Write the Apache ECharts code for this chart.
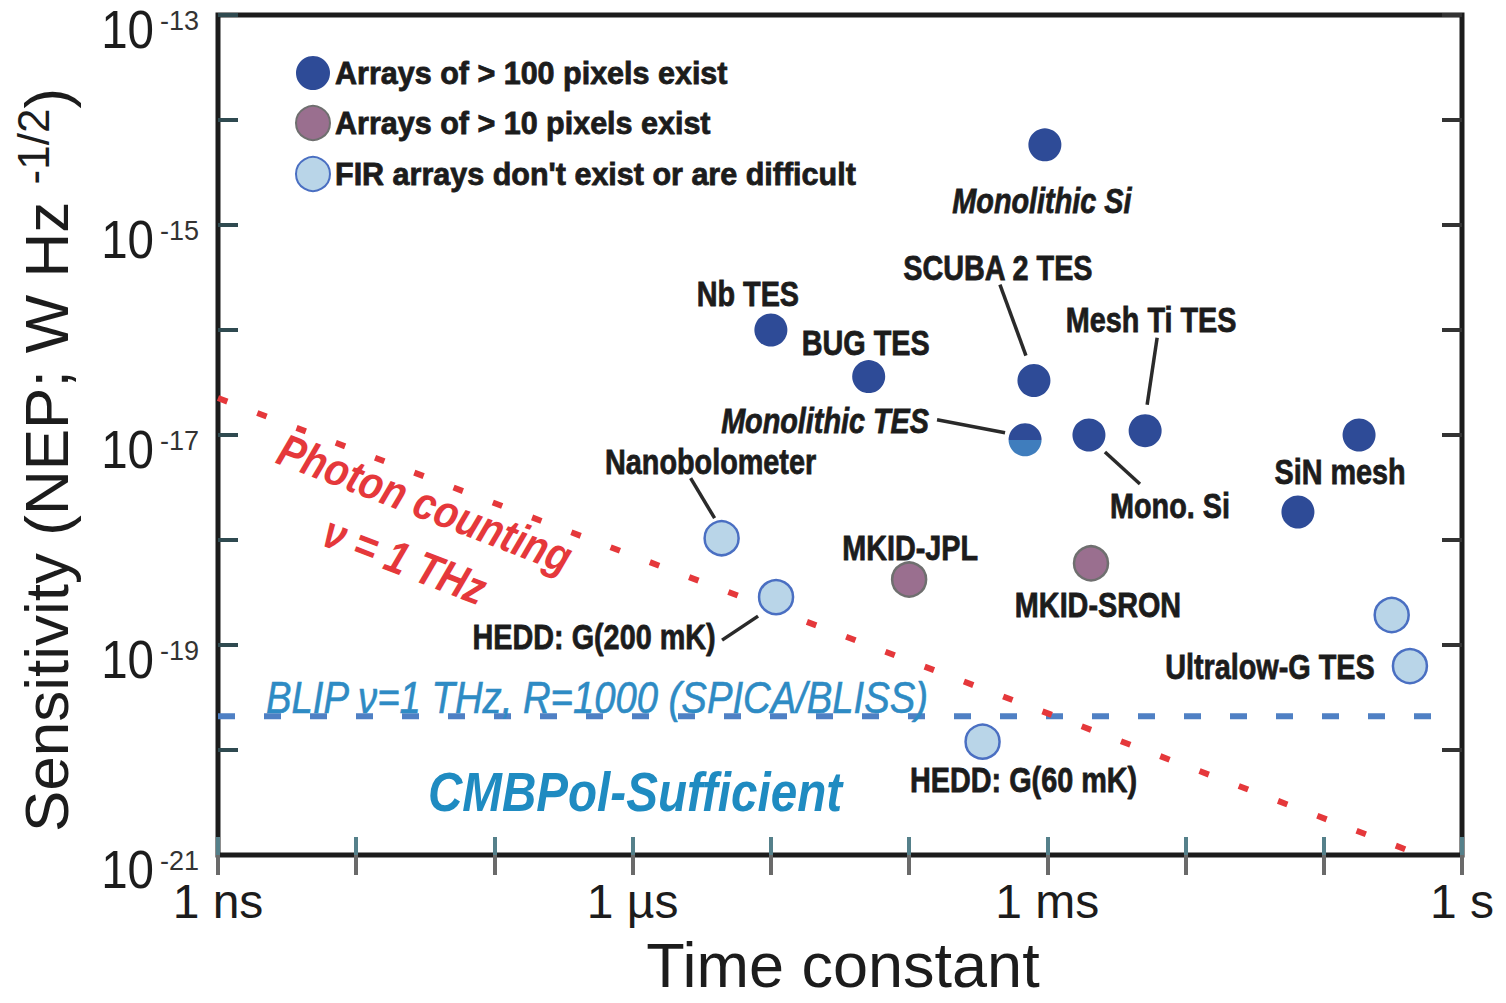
<!DOCTYPE html>
<html><head><meta charset="utf-8">
<script src="https://cdn.jsdelivr.net/npm/echarts@6/dist/echarts.min.js"></script>
<style>html,body{margin:0;padding:0;background:#fff;}#c{width:1506px;height:1003px;}</style>
</head><body><div id="c"></div>
<script>
// ---------------- data ----------------
const seriesNames = ['Arrays of > 100 pixels exist', 'Arrays of > 10 pixels exist', "FIR arrays don't exist or are difficult"];

const bigNames = ['Monolithic Si', 'Nb TES', 'BUG TES', 'SCUBA 2 TES', 'Monolithic TES', 'Mono. Si', 'Mesh Ti TES', 'SiN mesh', 'SiN mesh #2'];
const bigTau   = [9.6e-4, 1.0e-5, 5.1e-5, 8.0e-4, 6.9e-4, 2.0e-3, 5.1e-3, 0.18, 0.065];
const bigNEP   = [5.8e-15, 1.0e-16, 3.6e-17, 3.3e-17, 9.0e-18, 1.0e-17, 1.1e-17, 1.0e-17, 1.85e-18];

const midNames = ['MKID-JPL', 'MKID-SRON'];
const midTau   = [1.0e-4, 2.07e-3];
const midNEP   = [4.2e-19, 6.0e-19];

const firNames = ['Nanobolometer', 'HEDD: G(200 mK)', 'HEDD: G(60 mK)', 'Ultralow-G TES #2', 'Ultralow-G TES'];
const firTau   = [4.4e-6, 1.09e-5, 3.4e-4, 0.31, 0.42];
const firNEP   = [1.04e-18, 2.86e-19, 1.2e-20, 1.93e-19, 6.3e-20];

const photonTau = [1e-9, 0.5];
const photonNEP = [2.25e-17, 1e-21];
const blipTau = [1e-9, 0.7];
const blipNEP = [2.1e-20, 2.1e-20];

const xTickLabels = {'-9': '1 ns', '-6': '1 µs', '-3': '1 ms', '0': '1 s'};
const yLabelExps = [-13, -15, -17, -19, -21];

// ---------------- layout / style (not data) ----------------
const SANS = '"Liberation Sans", Arial, sans-serif';
const C_BIG = '#2e4b97', C_MID = '#9a6f8f', C_FIR = '#b9d5e8';
const INK = '#1c1c1c';

const labelCfg = {
  'Monolithic Si':   {off: [-3, 55], italic: true},
  'Nb TES':          {off: [-23, -37]},
  'BUG TES':         {off: [-3, -34]},
  'SCUBA 2 TES':     {off: [-36, -113], lead: [[-34, -96], [-8, -25]]},
  'Monolithic TES':  {off: [-200, -20], italic: true, lead: [[-88, -20], [-20, -7]]},
  'Mono. Si':        {off: [81, 70], lead: [[16, 17], [51, 49]]},
  'Mesh Ti TES':     {off: [6, -111], lead: [[12, -93], [2, -26]]},
  'SiN mesh':        {off: [-19, 36]},
  'MKID-JPL':        {off: [1, -32]},
  'MKID-SRON':       {off: [7, 41]},
  'Nanobolometer':   {off: [-11, -77], lead: [[-31, -60], [-7, -20]]},
  'HEDD: G(200 mK)': {off: [-182, 39], lead: [[-54, 43], [-18, 19]]},
  'HEDD: G(60 mK)':  {off: [41, 38]},
  'Ultralow-G TES':  {off: [-140, 0]}
};

function buildItems(names, taus, neps) {
  return names.map((n, i) => {
    const it = {name: n, value: [taus[i], neps[i]]};
    if (n === 'Monolithic TES') {
      it.itemStyle = {color: new echarts.graphic.LinearGradient(0, 0, 0, 1, [
        {offset: 0, color: C_BIG}, {offset: 0.5, color: C_BIG},
        {offset: 0.5, color: '#3f7dbd'}, {offset: 1, color: '#3f7dbd'}])};
    }
    return it;
  });
}

const chart = echarts.init(document.getElementById('c'), null, {renderer: 'svg'});

const option = {
  animation: false,
  backgroundColor: '#fff',
  grid: {left: 218, right: 44, top: 15, bottom: 148, show: true,
         borderColor: INK, borderWidth: 5, backgroundColor: 'transparent',
         outerBoundsMode: 'none'},
  legend: {
    data: seriesNames, orient: 'vertical', left: 295, top: 56,
    itemWidth: 34, itemHeight: 34, itemGap: 15, padding: 0,
    icon: 'circle', selectedMode: false,
    textStyle: {fontFamily: SANS, fontWeight: 'bold', fontSize: 30.5, color: INK,
                textBorderColor: INK, textBorderWidth: 0.8}
  },
  xAxis: [
    {type: 'log', logBase: 10, min: 1e-9, max: 1, splitNumber: 9, position: 'bottom',
     axisLine: {show: false}, splitLine: {show: false}, minorTick: {show: false},
     axisTick: {inside: true, length: 18, lineStyle: {color: '#55808a', width: 4}},
     axisLabel: {interval: 0, showMinLabel: true, showMaxLabel: true, margin: 22,
       formatter: v => xTickLabels[String(Math.round(Math.log10(v)))] || '',
       fontFamily: SANS, fontSize: 48, color: INK}},
    {type: 'log', logBase: 10, min: 1e-9, max: 1, splitNumber: 9, position: 'top',
     axisLine: {show: false}, splitLine: {show: false},
     axisTick: {inside: true, length: 20, lineStyle: {color: '#6a6a6a', width: 4}},
     axisLabel: {show: false}}
  ],
  yAxis: [
    {type: 'log', logBase: 10, min: 1e-21, max: 1e-13, splitNumber: 8, position: 'left',
     axisLine: {show: false}, splitLine: {show: false}, minorTick: {show: false},
     axisTick: {inside: true, length: 20, lineStyle: {color: '#2f4a50', width: 4}},
     axisLabel: {show: false}},
    {type: 'log', logBase: 10, min: 1e-21, max: 1e-13, splitNumber: 8, position: 'right',
     axisLine: {show: false}, splitLine: {show: false},
     axisTick: {inside: true, length: 20, lineStyle: {color: '#333', width: 4}},
     axisLabel: {show: false}}
  ],
  series: [
    {name: 'blip', type: 'line', data: blipTau.map((t, i) => [t, blipNEP[i]]),
     symbol: 'none', z: 1, silent: true,
     lineStyle: {color: '#4f80c4', width: 6, type: [17, 29]}},
    {name: 'photon', type: 'line', data: photonTau.map((t, i) => [t, photonNEP[i]]),
     symbol: 'none', z: 1, silent: true,
     lineStyle: {color: '#e5383b', width: 6, type: [10, 32]}},
    {name: seriesNames[0], type: 'scatter', symbolSize: 33, z: 3,
     itemStyle: {color: C_BIG, opacity: 1},
     data: buildItems(bigNames, bigTau, bigNEP)},
    {name: seriesNames[1], type: 'scatter', symbolSize: 34, z: 3,
     itemStyle: {color: C_MID, borderColor: '#6f6f6f', borderWidth: 2.5, opacity: 1},
     data: buildItems(midNames, midTau, midNEP)},
    {name: seriesNames[2], type: 'scatter', symbolSize: 34, z: 3,
     itemStyle: {color: C_FIR, borderColor: '#4a6fc2', borderWidth: 2.5, opacity: 1},
     data: buildItems(firNames, firTau, firNEP)}
  ]
};
chart.setOption(option);

// ---------- annotations anchored on the data points ----------
const graphics = [];
function addAnnotations(names, taus, neps) {
  names.forEach((n, i) => {
    const cfg = labelCfg[n];
    if (!cfg) return;
    const p = chart.convertToPixel({xAxisIndex: 0, yAxisIndex: 0}, [taus[i], neps[i]]);
    graphics.push({type: 'text', x: p[0] + cfg.off[0], y: p[1] + cfg.off[1], scaleX: 0.8, z: 5, silent: true,
      style: {text: n, fontFamily: SANS, fontWeight: 'bold', fontStyle: cfg.italic ? 'italic' : 'normal',
              fontSize: 36, fill: INK, stroke: INK, lineWidth: 0.8,
              align: 'center', verticalAlign: 'middle'}});
    if (cfg.lead) {
      graphics.push({type: 'line', z: 2, silent: true,
        shape: {x1: p[0] + cfg.lead[0][0], y1: p[1] + cfg.lead[0][1],
                x2: p[0] + cfg.lead[1][0], y2: p[1] + cfg.lead[1][1]},
        style: {stroke: '#2a2a2a', lineWidth: 3.5}});
    }
  });
}
addAnnotations(bigNames, bigTau, bigNEP);
addAnnotations(midNames, midTau, midNEP);
addAnnotations(firNames, firTau, firNEP);

// y tick labels 10^n (only odd powers are labelled in the reference)
yLabelExps.forEach(e => {
  const y = chart.convertToPixel({yAxisIndex: 0}, Math.pow(10, e));
  graphics.push(
    {type: 'text', x: 154, y: y + 14, scaleX: 0.88, z: 5, silent: true,
     style: {text: '10', fontFamily: SANS, fontSize: 54, fill: INK, align: 'right', verticalAlign: 'middle'}},
    {type: 'text', x: 160, y: y + 6, z: 5, silent: true,
     style: {text: String(e), fontFamily: SANS, fontSize: 27, fill: '#333', align: 'left', verticalAlign: 'middle'}}
  );
});

const rot = -21 * Math.PI / 180;
graphics.push(
  {type: 'text', x: 425, y: 503, rotation: rot, scaleX: 0.85, z: 4, silent: true,
   style: {text: 'Photon counting', fontFamily: SANS, fontWeight: 'bold', fontStyle: 'italic',
           fontSize: 46, fill: '#e5383b', align: 'center', verticalAlign: 'middle'}},
  {type: 'text', x: 405, y: 560, rotation: rot, scaleX: 0.85, z: 4, silent: true,
   style: {text: 'ν = 1 THz', fontFamily: SANS, fontWeight: 'bold', fontStyle: 'italic',
           fontSize: 46, fill: '#e5383b', align: 'center', verticalAlign: 'middle'}},
  {type: 'text', x: 597, y: 698, scaleX: 0.87, z: 4, silent: true,
   style: {text: 'BLIP ν=1 THz, R=1000 (SPICA/BLISS)', fontFamily: SANS, fontStyle: 'italic',
           fontSize: 44, fill: '#2e8bc4', stroke: '#2e8bc4', lineWidth: 0.6,
           align: 'center', verticalAlign: 'middle'}},
  {type: 'text', x: 635, y: 792, scaleX: 0.85, z: 4, silent: true,
   style: {text: 'CMBPol-Sufficient', fontFamily: SANS, fontWeight: 'bold', fontStyle: 'italic',
           fontSize: 56, fill: '#1f8bc1', align: 'center', verticalAlign: 'middle'}},
  {type: 'text', x: 843, y: 965, z: 4, silent: true,
   style: {text: 'Time constant', fontFamily: SANS, fontSize: 63, fill: INK,
           align: 'center', verticalAlign: 'middle'}},
  {type: 'text', x: 46, y: 460, rotation: Math.PI / 2, z: 4, silent: true,
   style: {text: '{a|Sensitivity (NEP; W Hz }{s|-1/2}{a|)}', align: 'center', verticalAlign: 'middle',
           rich: {a: {fontFamily: SANS, fontSize: 62, fill: INK, lineHeight: 70},
                  s: {fontFamily: SANS, fontSize: 44, fill: INK, lineHeight: 70, verticalAlign: 'top'}}}}
);
chart.setOption({graphic: graphics});
</script>
</body></html>
